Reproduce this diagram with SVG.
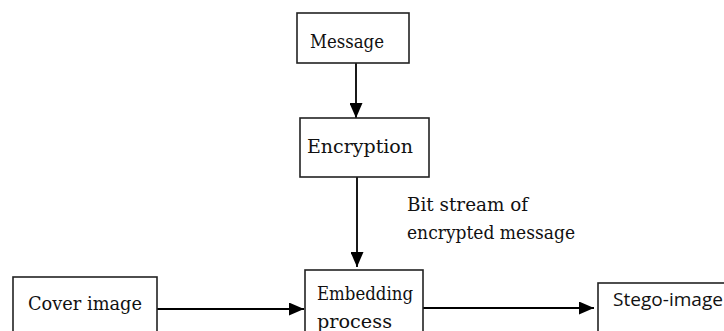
<svg xmlns="http://www.w3.org/2000/svg" width="724" height="331" viewBox="0 0 724 331">
<defs>
<marker id="ah" markerUnits="userSpaceOnUse" markerWidth="16" markerHeight="13" refX="15" refY="6.5" orient="auto">
<path d="M0,0 L15,6.5 L0,13 Z" fill="#000"/>
</marker>
<style>
.box{fill:#fff;stroke:#222;stroke-width:1.6}
.t{font-family:"DejaVu Serif","Liberation Serif",serif;font-size:18px;fill:#111}
.s{font-family:"Open Sans","Liberation Sans",sans-serif;font-size:18px;fill:#111}
.c{stroke:#000;stroke-width:1.8;fill:none}
</style>
</defs>
<rect width="724" height="331" fill="#fff"/>
<g id="connectors">
<line class="c" x1="356" y1="63" x2="356" y2="118" marker-end="url(#ah)"/>
<line class="c" x1="357" y1="177" x2="357" y2="267" marker-end="url(#ah)"/>
<line class="c" x1="153" y1="309" x2="304" y2="309" marker-end="url(#ah)"/>
<line class="c" x1="417" y1="308" x2="594" y2="308" marker-end="url(#ah)"/>
</g>
<g id="message">
<rect class="box" x="297" y="13" width="112" height="50"/>
<text class="t" x="310" y="48" textLength="74" lengthAdjust="spacingAndGlyphs">Message</text>
</g>
<g id="encryption">
<rect class="box" x="300" y="118" width="129" height="59"/>
<text class="t" x="307" y="153" textLength="106" lengthAdjust="spacingAndGlyphs">Encryption</text>
</g>
<g id="label">
<text class="t" x="407" y="211" textLength="121" lengthAdjust="spacingAndGlyphs">Bit stream of</text>
<text class="t" x="407" y="239" textLength="168" lengthAdjust="spacingAndGlyphs">encrypted message</text>
</g>
<g id="embedding">
<rect class="box" x="305" y="270" width="118" height="80"/>
<text class="t" x="317" y="300" textLength="96" lengthAdjust="spacingAndGlyphs">Embedding</text>
<text class="t" x="317" y="328" textLength="75" lengthAdjust="spacingAndGlyphs">process</text>
</g>
<g id="cover">
<rect class="box" x="13" y="277" width="144" height="70"/>
<text class="t" x="28" y="310" textLength="114" lengthAdjust="spacingAndGlyphs">Cover image</text>
</g>
<g id="stego">
<rect class="box" x="598" y="283" width="140" height="70"/>
<text class="s" x="613" y="306" textLength="110" lengthAdjust="spacingAndGlyphs">Stego-image</text>
</g>
</svg>
